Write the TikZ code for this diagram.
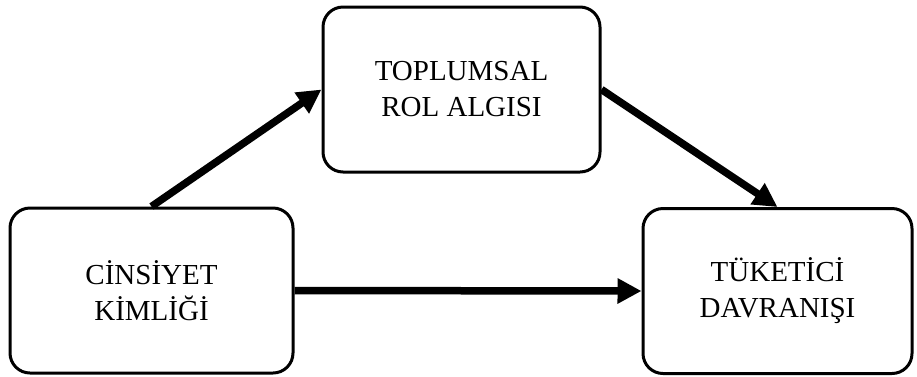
\documentclass[tikz,border=0pt]{standalone}
\usepackage{fontspec}
\setmainfont{Liberation Serif}
\usepackage{tikz}
\usetikzlibrary{arrows.meta,positioning}
\tikzset{
  concept/.style={
    draw,
    line width=3pt,
    rounded corners=20pt,
    align=center,
    minimum height=165pt,
    font=\fontsize{29}{36}\selectfont
  },
  flow/.style={-{Triangle[length=24pt,width=24pt]}, line width=7.5pt}
}
\begin{document}
\begin{tikzpicture}[x=1pt,y=1pt]
  \useasboundingbox (0,0) rectangle (917,-376);
  \node[concept, minimum width=283pt] (gender) at (151.5,-290.5) {CİNSİYET\\KİMLİĞİ};
  \node[concept, minimum width=277pt] (role) at (461.5,-89.5) {TOPLUMSAL\\ROL ALGISI};
  \node[concept, minimum width=269pt] (consumer) at (777.5,-291) {TÜKETİCİ\\DAVRANIŞI};

  \draw[flow] (gender.north) -- (role.west);
  \draw[flow] (role.east) -- (consumer.north);
  \draw[flow] (gender.east) -- (consumer.west);
\end{tikzpicture}
\end{document}
